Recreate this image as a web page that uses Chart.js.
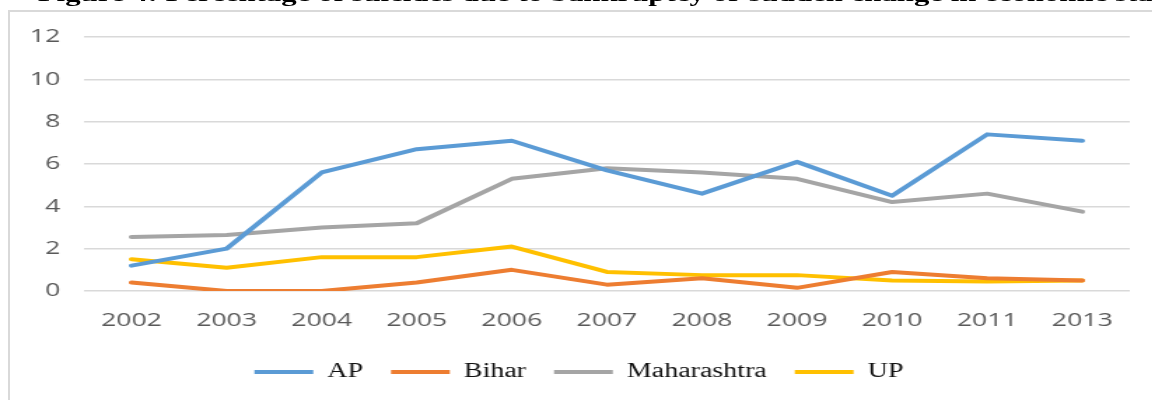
<!DOCTYPE html>
<html>
<head>
<meta charset="utf-8">
<script src="https://cdn.jsdelivr.net/npm/chart.js@4/dist/chart.umd.min.js"></script>
<style>
  html, body { margin: 0; padding: 0; background: #fff; overflow: hidden; }
  #frame { position: absolute; left: 8px; top: 10px; width: 1160px; height: 400px;
           border: 2px solid #d9d9d9; box-sizing: border-box; }
  #wrap { position: absolute; left: 0; top: 0; width: 823px; height: 400px;
          transform: scaleX(1.4); transform-origin: 0 0; }
  #title { position: absolute; left: 27px; top: -19px; white-space: nowrap; line-height: 22px;
           font: bold 22px "Liberation Serif", serif; color: #000; }
  #box { position: absolute; left: 0; top: 0; width: 823px; height: 400px; }
</style>
</head>
<body>
<div id="frame"></div>
<div id="wrap">
  <div id="title">Figure 4: Percentage of suicides due to bankruptcy or sudden change in economic status</div>
  <div id="box"><canvas id="chart"></canvas></div>
</div>
<script>
// ── données ────────────────────────────────────────────────────────────────
const years       = ['2002','2003','2004','2005','2006','2007','2008','2009','2010','2011','2013'];
const ap          = [1.2, 2.0, 5.6, 6.7, 7.1, 5.7, 4.6, 6.1, 4.5, 7.4, 7.1];
const bihar       = [0.4, 0.0, 0.0, 0.4, 1.0, 0.3, 0.6, 0.15, 0.9, 0.6, 0.5];
const maharashtra = [2.55, 2.65, 3.0, 3.2, 5.3, 5.8, 5.6, 5.3, 4.2, 4.6, 3.75];
const up          = [1.5, 1.1, 1.6, 1.6, 2.1, 0.9, 0.75, 0.75, 0.5, 0.45, 0.5];
const yTicks      = [0, 2, 4, 6, 8, 10, 12];

const line = (label, data, color) => ({
  label, data,
  borderColor: color, backgroundColor: color,
  borderWidth: 4, borderCapStyle: 'round', borderJoinStyle: 'round',
  pointRadius: 0, pointHoverRadius: 0, tension: 0,
});

const tickFont = { family: '"Open Sans", sans-serif', size: 19 };

new Chart(document.getElementById('chart'), {
  type: 'line',
  data: {
    labels: years,
    datasets: [
      line('AP',          ap,          '#5b9bd5'),
      line('Bihar',       bihar,       '#ed7d31'),
      line('Maharashtra', maharashtra, '#a5a5a5'),
      line('UP',          up,          '#ffc000'),
    ],
  },
  options: {
    responsive: true, maintainAspectRatio: false, animation: false,
    layout: { padding: { top: 37, left: 20, right: 16, bottom: 8 } },
    plugins: {
      tooltip: { enabled: false },
      legend: {
        position: 'bottom',
        labels: {
          usePointStyle: true, pointStyle: 'line', pointStyleWidth: 42,
          boxHeight: 20, padding: 20, color: '#111',
          font: { family: '"Liberation Serif", serif', size: 20 },
        },
      },
    },
    scales: {
      x: {
        offset: true,
        grid: { display: false, drawTicks: false, offset: true },
        border: { display: false },
        ticks: { color: '#595959', padding: 18, maxRotation: 0, autoSkip: false, font: tickFont },
        afterFit: s => { s.height = 51; },
      },
      y: {
        min: 0, max: 12,
        afterBuildTicks: s => { s.ticks = yTicks.map(v => ({ value: v })); },
        grid: { color: '#d9d9d9', lineWidth: 1.5, drawTicks: false },
        border: { display: false },
        ticks: { color: '#595959', padding: 17, font: tickFont },
        afterFit: s => { s.width = 40; },
      },
    },
  },
});
</script>
</body>
</html>
